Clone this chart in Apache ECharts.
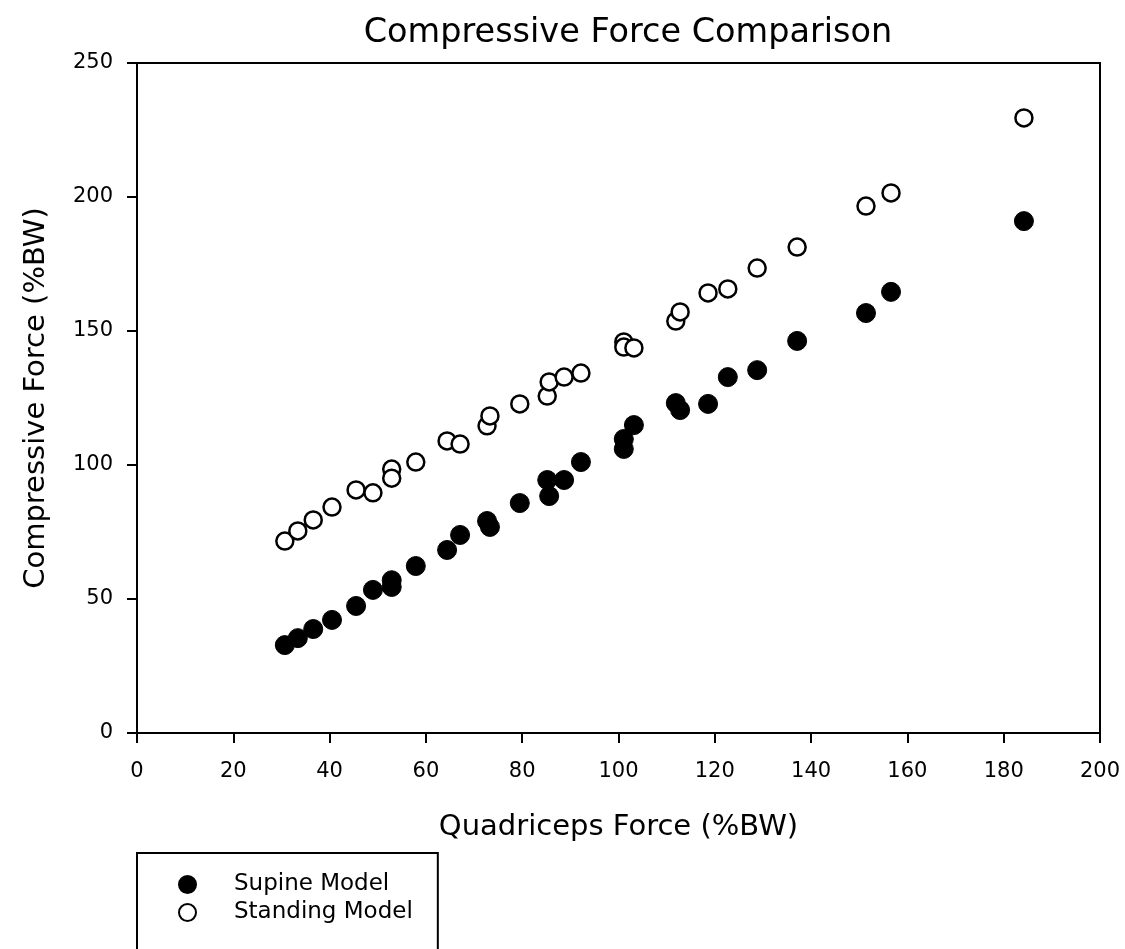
<!DOCTYPE html>
<html>
<head>
<meta charset="utf-8">
<script src="https://cdn.jsdelivr.net/npm/echarts@6/dist/echarts.min.js"></script>
<style>html,body{margin:0;padding:0;background:#fff;}#c{width:1125px;height:949px;}</style>
</head>
<body>
<div id="c"></div>
<script>
var quadForce = [30.7, 33.4, 36.6, 40.5, 45.5, 49.0, 52.9, 52.9, 57.9, 64.4, 67.1, 72.7, 73.3, 79.5, 85.2, 85.6, 88.7, 92.2, 101.1, 101.1, 103.2, 111.9, 112.8, 118.6, 122.7, 128.8, 137.1, 151.4, 156.6, 184.2];
var supine =    [32.8, 35.4, 38.8, 42.2, 47.4, 53.4, 57.0, 54.5, 62.3, 68.3, 73.9, 79.1, 76.9, 85.8, 94.4, 88.4, 94.4, 101.1, 109.7, 106.0, 114.9, 123.1, 120.5, 122.8, 132.8, 135.4, 146.3, 156.7, 164.6, 191.0];
var standing =  [71.6, 75.4, 79.5, 84.3, 90.7, 89.6, 98.5, 95.1, 101.1, 109.0, 107.8, 114.6, 118.3, 122.8, 125.7, 131.0, 132.8, 134.3, 145.9, 144.0, 143.7, 153.7, 157.1, 164.2, 165.7, 173.5, 181.3, 196.6, 201.5, 229.5];
var seriesNames = ['Supine Model', 'Standing Model'];
var titleText = 'Compressive Force Comparison';
var xName = 'Quadriceps Force (%BW)';
var yName = 'Compressive Force (%BW)';

function pairs(xs, ys) { return xs.map(function (x, i) { return [x, ys[i]]; }); }

var font = 'DejaVu Sans, Liberation Sans, Arial, sans-serif';
var chart = echarts.init(document.getElementById('c'), null, {renderer: 'canvas'});
chart.setOption({
  animation: false,
  backgroundColor: '#fff',
  title: {
    text: titleText, left: 623, top: 11, textAlign: 'center',
    textStyle: {fontFamily: font, fontSize: 33.5, fontWeight: 'normal', color: '#000'}
  },
  grid: {left: 137, right: 25, top: 63, bottom: 216, show: true, borderColor: '#000', borderWidth: 2, backgroundColor: 'transparent'},
  legend: {
    orient: 'vertical', left: 137, top: 853, height: 300,
    padding: [20, 25, 40, 41],
    borderColor: '#000', borderWidth: 2, borderRadius: 0,
    itemWidth: 17, itemHeight: 17, itemGap: 5,
    textStyle: {fontFamily: font, fontSize: 23, color: '#000', padding: [0, 0, 0, 33]},
    data: seriesNames
  },
  xAxis: {
    type: 'value', min: 0, max: 200, interval: 20,
    name: xName, nameLocation: 'middle', nameGap: 80,
    nameTextStyle: {fontFamily: font, fontSize: 29, color: '#000'},
    axisLine: {show: true, onZero: false, lineStyle: {color: '#000', width: 2}},
    axisTick: {show: true, length: 10, lineStyle: {color: '#000', width: 2}},
    axisLabel: {fontFamily: font, fontSize: 21, color: '#000', margin: 28},
    splitLine: {show: false}
  },
  yAxis: {
    type: 'value', min: 0, max: 250, interval: 50,
    name: yName, nameLocation: 'middle', nameGap: 86,
    nameTextStyle: {fontFamily: font, fontSize: 29, color: '#000'},
    axisLine: {show: true, onZero: false, lineStyle: {color: '#000', width: 2}},
    axisTick: {show: true, length: 10, lineStyle: {color: '#000', width: 2}},
    axisLabel: {fontFamily: font, fontSize: 21, color: '#000', margin: 24},
    splitLine: {show: false}
  },
  series: [
    {
      name: seriesNames[0], type: 'scatter', symbol: 'circle', symbolSize: 19,
      itemStyle: {color: '#000', borderColor: '#000', borderWidth: 1, opacity: 1},
      data: pairs(quadForce, supine)
    },
    {
      name: seriesNames[1], type: 'scatter', symbol: 'circle', symbolSize: 17,
      itemStyle: {color: '#fff', borderColor: '#000', borderWidth: 2.5, opacity: 1},
      data: pairs(quadForce, standing)
    }
  ]
});
</script>
</body>
</html>
